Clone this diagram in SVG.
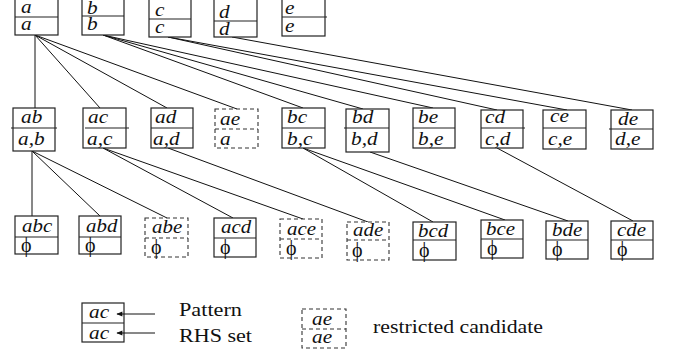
<svg xmlns="http://www.w3.org/2000/svg" width="673" height="354" viewBox="0 0 673 354">
<style>
.b{fill:#fff;stroke:#222;stroke-width:1.2}
.d{fill:#fff;stroke:#333;stroke-width:1.1;stroke-dasharray:4 3}
.l{stroke:#222;stroke-width:1.2}
.ld{stroke:#333;stroke-width:1.1;stroke-dasharray:4 3}
.c{stroke:#111;stroke-width:1;fill:none}
.t{font-family:'Liberation Serif','DejaVu Serif',serif;font-style:italic;font-size:19px;fill:#111}
.p{font-family:'Liberation Serif','DejaVu Serif',serif;font-size:20px;fill:#111}
.g{font-family:'Liberation Serif','DejaVu Serif',serif;font-size:18px;fill:#111}
</style>
<defs>
<marker id="ah" viewBox="0 0 10 10" refX="9" refY="5" markerWidth="7" markerHeight="6" orient="auto" markerUnits="userSpaceOnUse"><path d="M0,1 L10,5 L0,9 z" fill="#111"/></marker>
</defs>
<g id="connectors">
<line class="c" x1="35" y1="35" x2="35" y2="108"/>
<line class="c" x1="35" y1="35" x2="100" y2="108"/>
<line class="c" x1="35" y1="35" x2="167" y2="108"/>
<line class="c" x1="35" y1="35" x2="237" y2="109"/>
<line class="c" x1="103" y1="35" x2="303" y2="108"/>
<line class="c" x1="103" y1="35" x2="363" y2="109"/>
<line class="c" x1="103" y1="35" x2="433" y2="108"/>
<line class="c" x1="168" y1="37" x2="497" y2="110"/>
<line class="c" x1="168" y1="37" x2="567" y2="110"/>
<line class="c" x1="232" y1="37" x2="632" y2="110"/>
<line class="c" x1="32" y1="151" x2="32" y2="216"/>
<line class="c" x1="32" y1="151" x2="100" y2="216"/>
<line class="c" x1="32" y1="151" x2="167" y2="218"/>
<line class="c" x1="103" y1="148" x2="233" y2="218"/>
<line class="c" x1="103" y1="148" x2="303" y2="219"/>
<line class="c" x1="168" y1="148" x2="368" y2="222"/>
<line class="c" x1="303" y1="148" x2="433" y2="222"/>
<line class="c" x1="303" y1="148" x2="505" y2="220"/>
<line class="c" x1="370" y1="152" x2="568" y2="221"/>
<line class="c" x1="497" y1="148" x2="633" y2="221"/>
</g>
<g id="n-a"><rect class="b" x="15" y="-2" width="43" height="37"/><line class="l" x1="15" y1="17" x2="58" y2="17"/>
<text class="t" transform="matrix(1.12 0 0 1 21 13)">a</text><text class="t" transform="matrix(1.12 0 0 1 21 30)">a</text></g>
<g id="n-b"><rect class="b" x="82" y="-2" width="42" height="37"/><line class="l" x1="82" y1="16" x2="124" y2="16"/>
<text class="t" transform="matrix(1.12 0 0 1 87 14)">b</text><text class="t" transform="matrix(1.12 0 0 1 87 30)">b</text></g>
<g id="n-c"><rect class="b" x="149" y="-2" width="42" height="39"/><line class="l" x1="149" y1="19" x2="191" y2="19"/>
<text class="t" transform="matrix(1.12 0 0 1 155 16)">c</text><text class="t" transform="matrix(1.12 0 0 1 155 33)">c</text></g>
<g id="n-d"><rect class="b" x="214" y="-2" width="43" height="39"/><line class="l" x1="214" y1="21" x2="257" y2="21"/>
<text class="t" transform="matrix(1.12 0 0 1 219 18)">d</text><text class="t" transform="matrix(1.12 0 0 1 219 35)">d</text></g>
<g id="n-e"><rect class="b" x="282" y="-2" width="43" height="38"/><line class="l" x1="282" y1="17" x2="327" y2="17"/>
<text class="t" transform="matrix(1.12 0 0 1 285 14)">e</text><text class="t" transform="matrix(1.12 0 0 1 285 32)">e</text></g>

<g id="n-ab"><rect class="b" x="13" y="108" width="42" height="43"/><line class="l" x1="11" y1="128" x2="57" y2="128"/>
<text class="t" transform="matrix(1.12 0 0 1 21 123)">ab</text><text class="t" transform="matrix(1.12 0 0 1 18 145)">a,b</text></g>
<g id="n-ac"><rect class="b" x="83" y="108" width="43" height="40"/><line class="l" x1="85" y1="128" x2="129" y2="128"/>
<text class="t" transform="matrix(1.12 0 0 1 88 123)">ac</text><text class="t" transform="matrix(1.12 0 0 1 87 145)">a,c</text></g>
<g id="n-ad"><rect class="b" x="151" y="108" width="42" height="40"/><line class="l" x1="151" y1="128" x2="193" y2="128"/>
<text class="t" transform="matrix(1.12 0 0 1 155 123)">ad</text><text class="t" transform="matrix(1.12 0 0 1 153 145)">a,d</text></g>
<g id="n-ae"><rect class="d" x="215" y="109" width="43" height="39"/><line class="ld" x1="215" y1="129" x2="258" y2="129"/>
<text class="t" transform="matrix(1.12 0 0 1 220 125)">ae</text><text class="t" transform="matrix(1.12 0 0 1 220 145)">a</text></g>
<g id="n-bc"><rect class="b" x="282" y="108" width="43" height="40"/><line class="l" x1="282" y1="128" x2="325" y2="128"/>
<text class="t" transform="matrix(1.12 0 0 1 287 123)">bc</text><text class="t" transform="matrix(1.12 0 0 1 287 145)">b,c</text></g>
<g id="n-bd"><rect class="b" x="346" y="109" width="43" height="43"/><line class="l" x1="344" y1="128" x2="389" y2="128"/>
<text class="t" transform="matrix(1.12 0 0 1 352 123)">bd</text><text class="t" transform="matrix(1.12 0 0 1 351 145)">b,d</text></g>
<g id="n-be"><rect class="b" x="413" y="108" width="42" height="40"/><line class="l" x1="413" y1="128" x2="455" y2="128"/>
<text class="t" transform="matrix(1.12 0 0 1 418 123)">be</text><text class="t" transform="matrix(1.12 0 0 1 418 145)">b,e</text></g>
<g id="n-cd"><rect class="b" x="481" y="110" width="42" height="38"/><line class="l" x1="481" y1="128" x2="525" y2="128"/>
<text class="t" transform="matrix(1.12 0 0 1 485 123)">cd</text><text class="t" transform="matrix(1.12 0 0 1 485 145)">c,d</text></g>
<g id="n-ce"><rect class="b" x="543" y="110" width="43" height="39"/><line class="l" x1="543" y1="128" x2="586" y2="128"/>
<text class="t" transform="matrix(1.12 0 0 1 550 122)">ce</text><text class="t" transform="matrix(1.12 0 0 1 548 145)">c,e</text></g>
<g id="n-de"><rect class="b" x="611" y="110" width="42" height="39"/><line class="l" x1="609" y1="129" x2="653" y2="129"/>
<text class="t" transform="matrix(1.12 0 0 1 618 125)">de</text><text class="t" transform="matrix(1.12 0 0 1 615 145)">d,e</text></g>

<g id="n-abc"><rect class="b" x="15" y="216" width="43" height="38"/><line class="l" x1="15" y1="237" x2="58" y2="237"/>
<text class="t" transform="matrix(1.1 0 0 1 22 232)">abc</text><text class="p" x="21" y="252">ϕ</text></g>
<g id="n-abd"><rect class="b" x="79" y="216" width="42" height="38"/><line class="l" x1="79" y1="237" x2="121" y2="237"/>
<text class="t" transform="matrix(1.1 0 0 1 86 232)">abd</text><text class="p" x="85" y="252">ϕ</text></g>
<g id="n-abe"><rect class="d" x="145" y="218" width="43" height="39"/><line class="ld" x1="145" y1="238" x2="188" y2="238"/>
<text class="t" transform="matrix(1.1 0 0 1 152 233)">abe</text><text class="p" x="151" y="254">ϕ</text></g>
<g id="n-acd"><rect class="b" x="214" y="218" width="42" height="39"/><line class="l" x1="214" y1="238" x2="256" y2="238"/>
<text class="t" transform="matrix(1.1 0 0 1 221 233)">acd</text><text class="p" x="220" y="254">ϕ</text></g>
<g id="n-ace"><rect class="d" x="280" y="219" width="42" height="39"/><line class="ld" x1="280" y1="239" x2="322" y2="239"/>
<text class="t" transform="matrix(1.1 0 0 1 287 235)">ace</text><text class="p" x="286" y="255">ϕ</text></g>
<g id="n-ade"><rect class="d" x="347" y="222" width="42" height="38"/><line class="ld" x1="347" y1="240" x2="389" y2="240"/>
<text class="t" transform="matrix(1.1 0 0 1 353 236)">ade</text><text class="p" x="352" y="257">ϕ</text></g>
<g id="n-bcd"><rect class="b" x="413" y="222" width="43" height="38"/><line class="l" x1="413" y1="240" x2="456" y2="240"/>
<text class="t" transform="matrix(1.1 0 0 1 418 237)">bcd</text><text class="p" x="419" y="257">ϕ</text></g>
<g id="n-bce"><rect class="b" x="481" y="220" width="42" height="38"/><line class="l" x1="481" y1="239" x2="523" y2="239"/>
<text class="t" transform="matrix(1.1 0 0 1 486 235)">bce</text><text class="p" x="487" y="255">ϕ</text></g>
<g id="n-bde"><rect class="b" x="546" y="221" width="42" height="38"/><line class="l" x1="546" y1="240" x2="588" y2="240"/>
<text class="t" transform="matrix(1.1 0 0 1 552 236)">bde</text><text class="p" x="552" y="256">ϕ</text></g>
<g id="n-cde"><rect class="b" x="611" y="221" width="42" height="38"/><line class="l" x1="611" y1="240" x2="653" y2="240"/>
<text class="t" transform="matrix(1.1 0 0 1 617 236)">cde</text><text class="p" x="617" y="256">ϕ</text></g>

<g id="legend">
<g id="legend-node"><rect class="b" x="82" y="303" width="42" height="39"/><line class="l" x1="82" y1="323" x2="124" y2="323"/>
<text class="t" transform="matrix(1.12 0 0 1 89 318)">ac</text><text class="t" transform="matrix(1.12 0 0 1 89 339)">ac</text></g>
<line class="c" x1="155" y1="314" x2="117" y2="314" marker-end="url(#ah)"/>
<line class="c" x1="155" y1="333" x2="117" y2="333" marker-end="url(#ah)"/>
<text class="g" x="179" y="316" textLength="63" lengthAdjust="spacingAndGlyphs">Pattern</text>
<text class="g" x="179" y="342" textLength="73" lengthAdjust="spacingAndGlyphs">RHS set</text>
<g id="legend-restricted"><rect class="d" x="302" y="309" width="44" height="39"/><line class="ld" x1="302" y1="329" x2="346" y2="329"/>
<text class="t" transform="matrix(1.12 0 0 1 312 325)">ae</text><text class="t" transform="matrix(1.12 0 0 1 312 343)">ae</text></g>
<text class="g" x="373" y="333" textLength="170" lengthAdjust="spacingAndGlyphs">restricted candidate</text>
</g>
</svg>
